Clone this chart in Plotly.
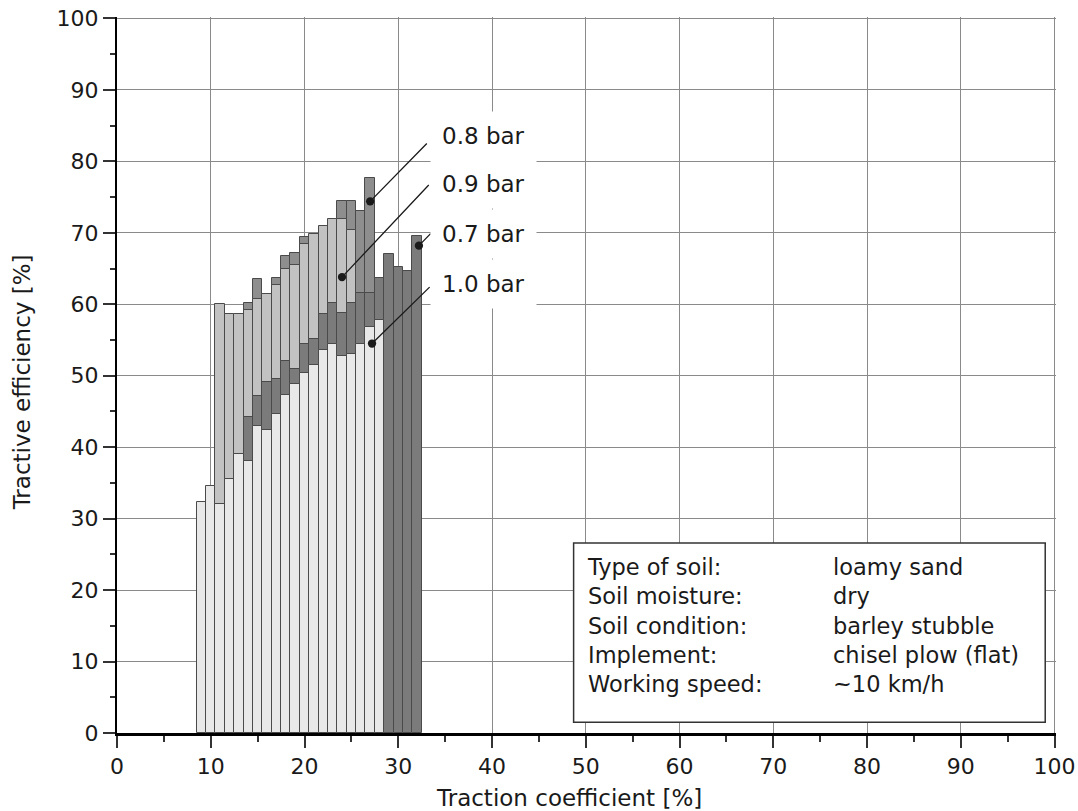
import plotly.graph_objects as go

# ---- data ----
traction = list(range(9, 33))  # traction coefficient [%], bar centres

eff_08 = [None, None, None, None, None, 60.2, 63.6, None, 63.7, 66.7, 67.2, 69.4,
          None, None, None, 74.4, 74.4, 73.1, 77.6, None, None, None, None, None]
eff_09 = [None, None, 60.1, 58.7, 58.6, 59.2, 60.7, 61.5, 62.7, 64.9, 65.5, 68.4,
          69.8, 70.9, 71.9, 72.0, 70.4, None, None, None, None, None, None, None]
eff_07 = [None, None, None, None, None, 44.2, 47.2, 49.1, 49.6, 52.0, 51.0, 54.4,
          55.1, 58.6, 60.2, 58.8, 60.2, 61.6, 61.6, 63.7, 67.0, 65.2, 64.7, 69.5]
eff_10 = [32.3, 34.5, 32.0, 35.5, 39.1, 38.0, 43.0, 42.4, 44.6, 47.3, 48.9, 50.4,
          51.5, 53.6, 54.4, 52.7, 53.1, 54.5, 56.8, 57.8, None, None, None, None]

series_names = ["0.8 bar", "0.9 bar", "0.7 bar", "1.0 bar"]   # back -> front
series_values = [eff_08, eff_09, eff_07, eff_10]
series_colors = ["#8e8e8e", "#c2c2c2", "#7b7b7b", "#e8e8e8"]

# pointer labels: (name, point x, point y, line end x, line end y, label y)
pointers = [
    ("0.8 bar", 27.0, 74.4, 33.2, 82.7, 83.6),
    ("0.9 bar", 24.0, 63.8, 33.4, 76.9, 76.8),
    ("0.7 bar", 32.2, 68.2, 33.6, 70.1, 69.9),
    ("1.0 bar", 27.2, 54.5, 33.5, 62.6, 62.9),
]

info_keys = ["Type of soil:", "Soil moisture:", "Soil condition:", "Implement:", "Working speed:"]
info_vals = ["loamy sand", "dry", "barley stubble", "chisel plow (flat)", "~10 km/h"]

FONT = "DejaVu Sans"

fig = go.Figure()
for name, vals, col in zip(series_names, series_values, series_colors):
    fig.add_trace(go.Bar(
        x=traction, y=vals, name=name, width=1.0,
        marker=dict(color=col, line=dict(color="#4a4a4a", width=1)),
        showlegend=False,
    ))

annotations = []
for name, px, py, tx, ty, ly in pointers:
    annotations.append(dict(
        x=px, y=py, xref="x", yref="y", ax=tx, ay=ty, axref="x", ayref="y",
        text="", showarrow=True, arrowhead=6, arrowsize=1.6, arrowwidth=1.3,
        arrowcolor="#1a1a1a",
    ))
for name, px, py, tx, ty, ly in pointers:
    annotations.append(dict(
        x=33.4, y=ly, xref="x", yref="y", text=name, showarrow=False,
        xanchor="left", yanchor="middle", bgcolor="white", borderpad=11,
        font=dict(family=FONT, size=23, color="#1a1a1a"),
    ))

annotations.append(dict(
    x=49.9, y=15.1, xref="x", yref="y", text="<br>".join(info_keys),
    showarrow=False, xanchor="left", yanchor="middle", align="left",
    font=dict(family=FONT, size=22.5, color="#1a1a1a"),
))
annotations.append(dict(
    x=76.2, y=15.1, xref="x", yref="y", text="<br>".join(info_vals),
    showarrow=False, xanchor="left", yanchor="middle", align="left",
    font=dict(family=FONT, size=22.5, color="#1a1a1a"),
))
annotations.append(dict(
    x=0.481, y=-0.0905, xref="paper", yref="paper", text="Traction coefficient [%]",
    showarrow=False, xanchor="center", yanchor="middle",
    font=dict(family=FONT, size=23, color="#1a1a1a"),
))
annotations.append(dict(
    x=-0.101, y=0.49, xref="paper", yref="paper", text="Tractive efficiency [%]",
    showarrow=False, xanchor="center", yanchor="middle", textangle=-90,
    font=dict(family=FONT, size=23, color="#1a1a1a"),
))

fig.update_layout(
    width=1078, height=811,
    margin=dict(l=117, r=22, t=17, b=78, autoexpand=False),
    paper_bgcolor="white", plot_bgcolor="white",
    barmode="overlay", bargap=0,
    font=dict(family=FONT, size=22, color="#1a1a1a"),
    annotations=annotations,
    shapes=[dict(type="rect", xref="x", yref="y", x0=48.7, x1=99.0, y0=1.5, y1=26.6,
                 fillcolor="white", line=dict(color="#333333", width=1.5), layer="above")],
)
fig.update_xaxes(
    range=[0, 100.15], tickvals=list(range(0, 101, 10)), showgrid=True,
    gridcolor="#8a8a8a", gridwidth=1,
    showline=True, linecolor="black", linewidth=2.5, zeroline=False, automargin=False,
    ticks="outside", ticklen=12, tickwidth=1.5, tickcolor="#333", ticklabeloverflow="allow",
    minor=dict(dtick=5, tick0=0, ticks="outside", ticklen=6, tickcolor="#333", showgrid=False),
    tickfont=dict(family=FONT, size=22, color="#1a1a1a"),
)
fig.update_yaxes(
    range=[0, 100.2], tickvals=list(range(0, 101, 10)), showgrid=True,
    gridcolor="#8a8a8a", gridwidth=1,
    showline=True, linecolor="black", linewidth=2, zeroline=False, automargin=False,
    ticks="outside", ticklen=12, tickwidth=1.5, tickcolor="#333", ticklabeloverflow="allow",
    minor=dict(dtick=5, tick0=0, ticks="outside", ticklen=5, tickcolor="#333", showgrid=False),
    tickfont=dict(family=FONT, size=22, color="#1a1a1a"),
)

# remove the page's default body margin so the 1078x811 figure fills the window exactly
fig.write_html("out.html", config={"displayModeBar": False},
               post_script="document.body.style.margin='0';")
